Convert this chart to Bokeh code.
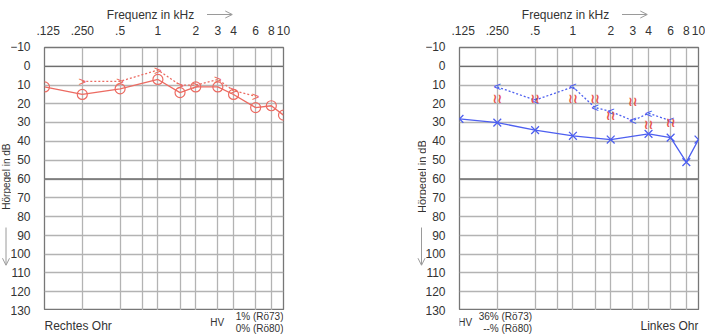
import math
from bokeh.plotting import figure
from bokeh.layouts import row, column
from bokeh.models import Range1d, FixedTicker, Span, Label, Arrow, OpenHead
from bokeh.core.properties import value
from bokeh.embed import file_html
from bokeh.resources import INLINE

# ---------------- data ----------------
freq_ticks = [0.125, 0.25, 0.5, 1, 2, 3, 4, 6, 8, 10]
freq_tick_labels = [".125", ".250", ".5", "1", "2", "3", "4", "6", "8", "10"]
grid_freqs = [0.125, 0.25, 0.5, 0.75, 1, 1.5, 2, 3, 4, 6, 8, 10]
db_ticks = [-10, 0, 10, 20, 30, 40, 50, 60, 70, 80, 90, 100, 110, 120, 130]

# right ear (red)
right_ac_f = [0.125, 0.25, 0.5, 1, 1.5, 2, 3, 4, 6, 8, 10]
right_ac_db = [11, 15, 12, 7, 14, 11, 11, 15, 22, 21, 26]
right_bc_f = [0.25, 0.5, 1, 1.5, 2, 3, 4, 6]
right_bc_db = [8, 8, 2, 10, 10, 7, 13, 16]

# left ear (blue)
left_ac_f = [0.125, 0.25, 0.5, 1, 2, 4, 6, 8, 10]
left_ac_db = [28, 30, 34, 37, 39, 36, 38, 51, 39]
left_bc_f = [0.25, 0.5, 1, 1.5, 2, 3, 4, 6]
left_bc_db = [11, 18, 11, 22, 24, 29, 25, 29]
left_mask_f = [0.25, 0.5, 1, 1.5, 2, 3, 4, 6]
left_mask_db = [17, 17, 17, 17, 26, 19, 31, 30]

RED = "#ec6b62"
BLUE = "#4d5ff0"
TXT = "#333333"
ARROW = "#9a9a9a"
FONT = "Liberation Sans"

FULL_H = 335
TOP_H = 22      # strip with "Frequenz in kHz"
MAIN_H = 288    # top axis + grid (frame 46..310)
BOT_H = 25      # strip with ear names / HV
FRAME_TOP = 46


def bare(width, height, x_range, y_range, bl, br, bt, bb, log=True):
    p = figure(width=width, height=height, x_range=x_range, y_range=y_range,
               x_axis_type="log" if log else "linear",
               x_axis_location=None, y_axis_location=None,
               output_backend="svg", toolbar_location=None,
               min_border_left=bl, min_border_right=br,
               min_border_top=bt, min_border_bottom=bb)
    p.grid.visible = False
    p.outline_line_color = None
    return p


def lab(p, x, y, text, align, size="10px", angle=0):
    p.add_layout(Label(x=x, y=y, text=text, text_align=align, text_baseline="middle",
                       angle=angle, text_font=FONT, text_font_size=size, text_color=TXT))


def style_axis(a, standoff):
    a.axis_line_color = None
    a.major_tick_line_color = None
    a.minor_tick_line_color = None
    a.major_label_text_font = FONT
    a.major_label_text_font_size = "12px"
    a.major_label_text_color = TXT
    a.major_label_standoff = standoff


def panel(width, bl, br):
    xr = Range1d(0.125, 10)
    yr = Range1d(130, -10)
    # top strip
    top = bare(width, TOP_H, xr, Range1d(0, TOP_H), bl, br, 0, 0)
    lab(top, 0.392, 8, "Frequenz in kHz", "left", "12px")
    top.add_layout(Arrow(end=OpenHead(size=7, line_color=ARROW, line_width=1),
                         x_start=2.46, y_start=8, x_end=3.91, y_end=8,
                         line_color=ARROW, line_width=1))
    # main chart
    p = figure(width=width, height=MAIN_H, x_axis_type="log", x_axis_location="above",
               y_axis_location=None, x_range=xr, y_range=yr,
               output_backend="svg", toolbar_location=None,
               min_border_left=bl, min_border_right=br,
               min_border_top=FRAME_TOP - TOP_H, min_border_bottom=0)
    p.xaxis.ticker = FixedTicker(ticks=freq_ticks)
    p.xaxis.major_label_overrides = dict(zip(freq_ticks, freq_tick_labels))
    style_axis(p.xaxis[0], 7)
    p.xgrid.ticker = FixedTicker(ticks=grid_freqs)
    p.ygrid.ticker = FixedTicker(ticks=db_ticks)
    for g in (p.xgrid, p.ygrid):
        g.grid_line_color = "#b3b3b3"
        g.grid_line_width = 1.3
    p.outline_line_color = "#777777"
    p.outline_line_width = 1.3
    for loc in (0, 60):
        p.add_layout(Span(location=loc, dimension="width", line_color="#6e6e6e", line_width=1.3))
    # bottom strip
    bot = bare(width, BOT_H, xr, Range1d(0, BOT_H), bl, br, 0, 0)
    return top, p, bot, yr


def side_label(width, xlabel, xarrow, size):
    s = bare(width, FULL_H, Range1d(0, width), Range1d(130, -10),
             0, 0, FRAME_TOP, BOT_H, log=False)
    lab(s, xlabel, 59, "Hörpegel in dB", "center", size, math.pi / 2)
    s.add_layout(Arrow(end=OpenHead(size=7, line_color=ARROW, line_width=1),
                       x_start=xarrow, y_start=86, x_end=xarrow, y_end=106,
                       line_color=ARROW, line_width=1))
    return s


def side_axis(yr):
    s = figure(width=25, height=FULL_H, x_range=Range1d(0, 1), y_range=yr,
               x_axis_location=None, y_axis_location="left",
               output_backend="svg", toolbar_location=None,
               min_border_left=24, min_border_right=0,
               min_border_top=FRAME_TOP, min_border_bottom=BOT_H)
    s.yaxis.ticker = FixedTicker(ticks=db_ticks)
    style_axis(s.yaxis[0], 0)
    s.grid.visible = False
    s.outline_line_color = None
    return s


# ---------------- left panel: right ear ----------------
sl1 = side_label(11, 5.5, 5.5, "10px")
sa1 = side_axis(Range1d(130, -10))
t1, p1, b1, yr1 = panel(264, 8, 17)
sa1.y_range = yr1
p1.line(right_bc_f, right_bc_db, line_color=RED, line_width=1.3, line_dash="2 2")
p1.text(right_bc_f, right_bc_db, text=value(">"), text_color=RED, text_align="center",
        text_baseline="middle", text_font=value(FONT), text_font_size="13px")
p1.line(right_ac_f, right_ac_db, line_color=RED, line_width=1.3)
p1.scatter(right_ac_f, right_ac_db, marker="circle", size=10, fill_color=None,
           line_color=RED, line_width=1.2)
lab(b1, 0.125, 10, "Rechtes Ohr", "left", "12px")
lab(b1, 2.97, 13, "HV", "center")
lab(b1, 10, 19, "1% (Rö73)", "right")
lab(b1, 10, 7.5, "0% (Rö80)", "right")

# ---------------- right panel: left ear ----------------
sl2 = side_label(126, 121, 121, "11px")
t2, p2, b2, yr2 = panel(254, 8, 7)
sa2 = side_axis(yr2)
p2.line(left_bc_f, left_bc_db, line_color=BLUE, line_width=1.3, line_dash="2 2")
p2.text(left_bc_f, left_bc_db, text=value("<"), text_color=BLUE, text_align="center",
        text_baseline="middle", text_font=value(FONT), text_font_size="13px")
p2.text(left_mask_f, left_mask_db, text=value("≀≀"), text_color="#e8544c", text_align="center",
        text_baseline="middle", text_font=value("DejaVu Sans"), text_font_size="13px",
        text_font_style="bold")
p2.line(left_ac_f, left_ac_db, line_color=BLUE, line_width=1.3)
p2.scatter(left_ac_f, left_ac_db, marker="x", size=11, line_color=BLUE, line_width=1.3)
lab(b2, 0.139, 13, "HV", "center")
lab(b2, 0.473, 19, "36% (Rö73)", "right")
lab(b2, 0.473, 7.5, "--% (Rö80)", "right")
lab(b2, 10, 10, "Linkes Ohr", "right", "12px")

layout = row(sl1, sa1, column(t1, p1, b1), sl2, sa2, column(t2, p2, b2))
open("out.html", "w").write(file_html(layout, INLINE))
